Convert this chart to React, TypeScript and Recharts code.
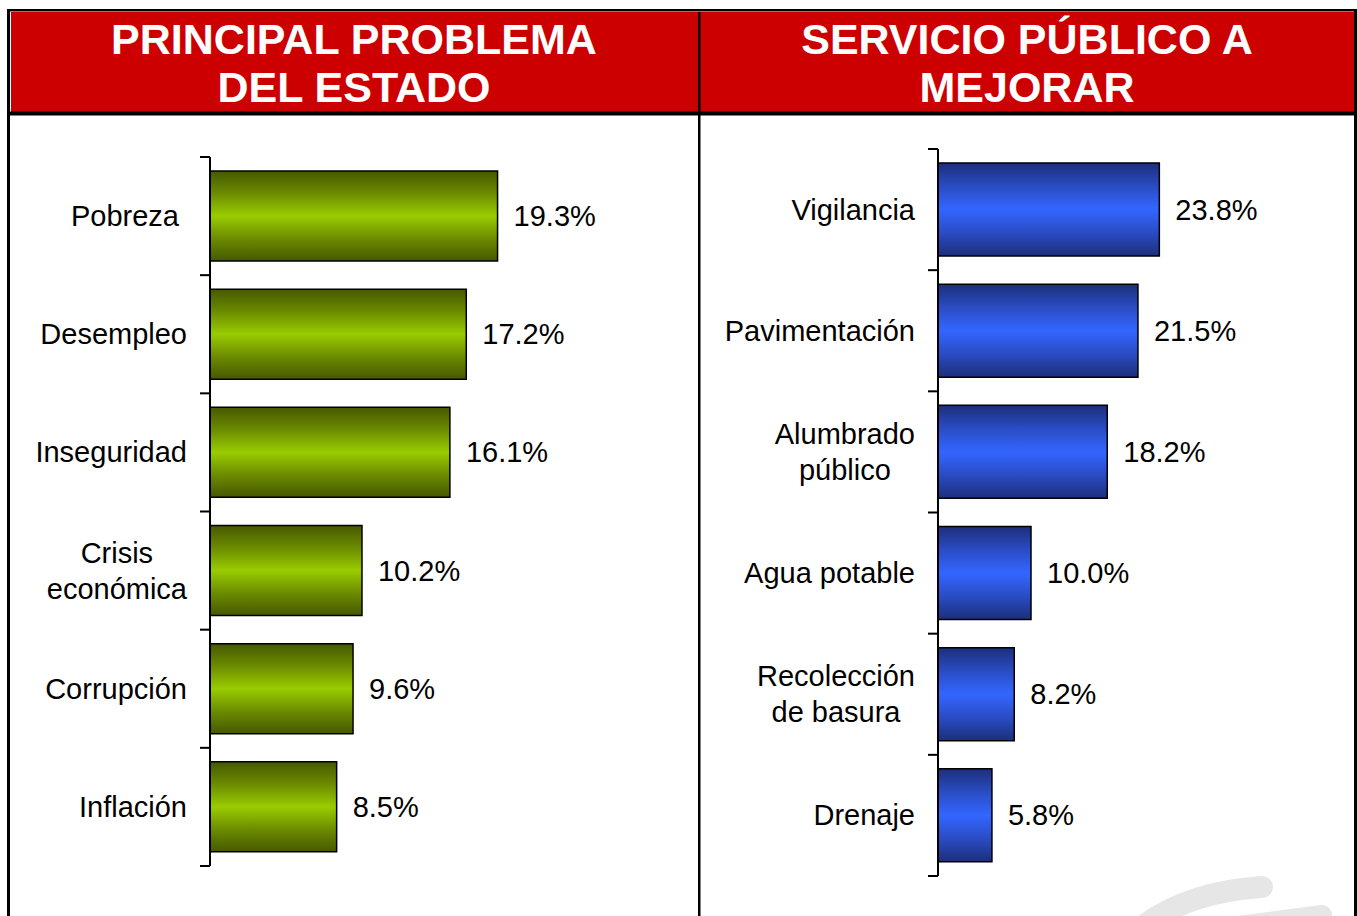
import React from 'react'
import { BarChart, Bar, XAxis, YAxis, LabelList } from 'recharts'

// Principal problema del estado
const problemas = ['Pobreza ', 'Desempleo', 'Inseguridad', 'Crisis\neconómica', 'Corrupción', 'Inflación']
const problemaValores = [19.3, 17.2, 16.1, 10.2, 9.6, 8.5]

// Servicio público a mejorar
const servicios = ['Vigilancia', 'Pavimentación', 'Alumbrado\npúblico', 'Agua potable', 'Recolección\nde basura', 'Drenaje']
const servicioValores = [23.8, 21.5, 18.2, 10.0, 8.2, 5.8]

const FONT = '"Liberation Sans", Arial, Helvetica, sans-serif'
const LABEL_SIZE = 29

let ctx: CanvasRenderingContext2D | null = null
const textWidth = (s: string) => {
    if (!ctx) ctx = document.createElement('canvas').getContext('2d')
    if (!ctx) return s.length * 15
    ctx.font = `${LABEL_SIZE}px ${FONT}`
    return ctx.measureText(s).width
}

const makeTick = (band: number, count: number) => (props: any) => {
    const { x, y, payload, index } = props
    const lines = String(payload.value).split('\n')
    const right = x - 23
    const maxW = Math.max(...lines.map(textWidth))
    const multi = lines.length > 1
    return (
        <g>
            <line x1={x - 10} x2={x} y1={y - band / 2} y2={y - band / 2} stroke="#000" strokeWidth={2} />
            {index === count - 1 && (
                <line x1={x - 10} x2={x} y1={y + band / 2} y2={y + band / 2} stroke="#000" strokeWidth={2} />
            )}
            {lines.map((l, i) => (
                <text
                    key={i}
                    x={multi ? right - maxW / 2 : right}
                    y={y + (i - (lines.length - 1) / 2) * 36}
                    textAnchor={multi ? 'middle' : 'end'}
                    dominantBaseline="central"
                    fontSize={LABEL_SIZE}
                    fontFamily={FONT}
                    fill="#000"
                    style={{ whiteSpace: 'pre' }}
                >
                    {l}
                </text>
            ))}
        </g>
    )
}

const renderValue = (props: any) => {
    const { x, y, width, height, value } = props
    return (
        <text
            x={Number(x) + Number(width) + 16}
            y={Number(y) + Number(height) / 2}
            dominantBaseline="central"
            fontSize={LABEL_SIZE}
            fontFamily={FONT}
            fill="#000"
        >
            {Number(value).toFixed(1)}%
        </text>
    )
}

interface PanelProps {
    names: string[]
    values: number[]
    max: number
    width: number
    height: number
    axisWidth: number
    margin: { top: number, right: number, bottom: number, left: number }
    barSize: number
    gradId: string
}

const Panel = ({ names, values, max, width, height, axisWidth, margin, barSize, gradId }: PanelProps) => {
    const data = names.map((name, i) => ({ name, value: values[i] }))
    const band = (height - margin.top - margin.bottom) / names.length
    return (
        <BarChart width={width} height={height} data={data} layout="vertical" margin={margin}>
            <defs>
                <linearGradient id="green" x1="0" y1="0" x2="0" y2="1">
                    <stop offset="0%" stopColor="#465800" />
                    <stop offset="25%" stopColor="#6c8c00" />
                    <stop offset="50%" stopColor="#99cc00" />
                    <stop offset="75%" stopColor="#6c8c00" />
                    <stop offset="100%" stopColor="#465800" />
                </linearGradient>
                <linearGradient id="blue" x1="0" y1="0" x2="0" y2="1">
                    <stop offset="0%" stopColor="#1c2f7a" />
                    <stop offset="25%" stopColor="#2a4cc4" />
                    <stop offset="50%" stopColor="#3366ff" />
                    <stop offset="75%" stopColor="#2a4cc4" />
                    <stop offset="100%" stopColor="#1c2f7a" />
                </linearGradient>
            </defs>
            <XAxis type="number" domain={[0, max]} hide />
            <YAxis
                type="category"
                dataKey="name"
                width={axisWidth}
                interval={0}
                tickSize={0}
                tickMargin={0}
                tickLine={false}
                axisLine={{ stroke: '#000', strokeWidth: 2 }}
                tick={makeTick(band, names.length)}
            />
            <Bar dataKey="value" fill={`url(#${gradId})`} stroke="#000" strokeWidth={1.5} barSize={barSize} isAnimationActive={false}>
                <LabelList dataKey="value" content={renderValue} />
            </Bar>
        </BarChart>
    )
}

const Header = ({ cx, lines }: { cx: number, lines: string[] }) => (
    <>
        {lines.map((l, i) => (
            <text key={i} x={cx} y={54 + i * 48} textAnchor="middle" fontSize={43} fontWeight="bold" fontFamily={FONT} fill="#fff">
                {l}
            </text>
        ))}
    </>
)

export default function App() {
    return (
        <div style={{ position: 'absolute', left: 0, top: 0, width: 1357, height: 916, background: '#fff', overflow: 'hidden' }}>
            <svg width={1357} height={916} style={{ position: 'absolute', left: 0, top: 0 }}>
                <path d="M1138 930 Q1185 892 1262 887" stroke="#e6e6e6" strokeWidth={22} fill="none" strokeLinecap="round" />
                <path d="M1238 926 L1322 915" stroke="#e6e6e6" strokeWidth={20} fill="none" strokeLinecap="round" />
                <rect x={11} y={12} width={1343} height={100} fill="#cc0000" />
                <rect x={7} y={9} width={1350} height={2.5} fill="#000" />
                <rect x={7} y={111.5} width={1350} height={4} fill="#000" />
                <rect x={7} y={9} width={3} height={907} fill="#000" />
                <rect x={698} y={12} width={2.5} height={904} fill="#000" />
                <rect x={1354} y={9} width={3} height={907} fill="#000" />
                <Header cx={354} lines={['PRINCIPAL PROBLEMA', 'DEL ESTADO']} />
                <Header cx={1027} lines={['SERVICIO PÚBLICO A', 'MEJORAR']} />
            </svg>
            <div style={{ position: 'absolute', left: 10, top: 115 }}>
                <Panel
                    names={problemas}
                    values={problemaValores}
                    max={30}
                    width={688}
                    height={800}
                    axisWidth={200}
                    margin={{ top: 42, right: 41, bottom: 49, left: 0 }}
                    barSize={90}
                    gradId="green"
                />
            </div>
            <div style={{ position: 'absolute', left: 700, top: 115 }}>
                <Panel
                    names={servicios}
                    values={servicioValores}
                    max={40}
                    width={654}
                    height={801}
                    axisWidth={238}
                    margin={{ top: 34, right: 44, bottom: 40, left: 0 }}
                    barSize={93}
                    gradId="blue"
                />
            </div>
        </div>
    )
}
